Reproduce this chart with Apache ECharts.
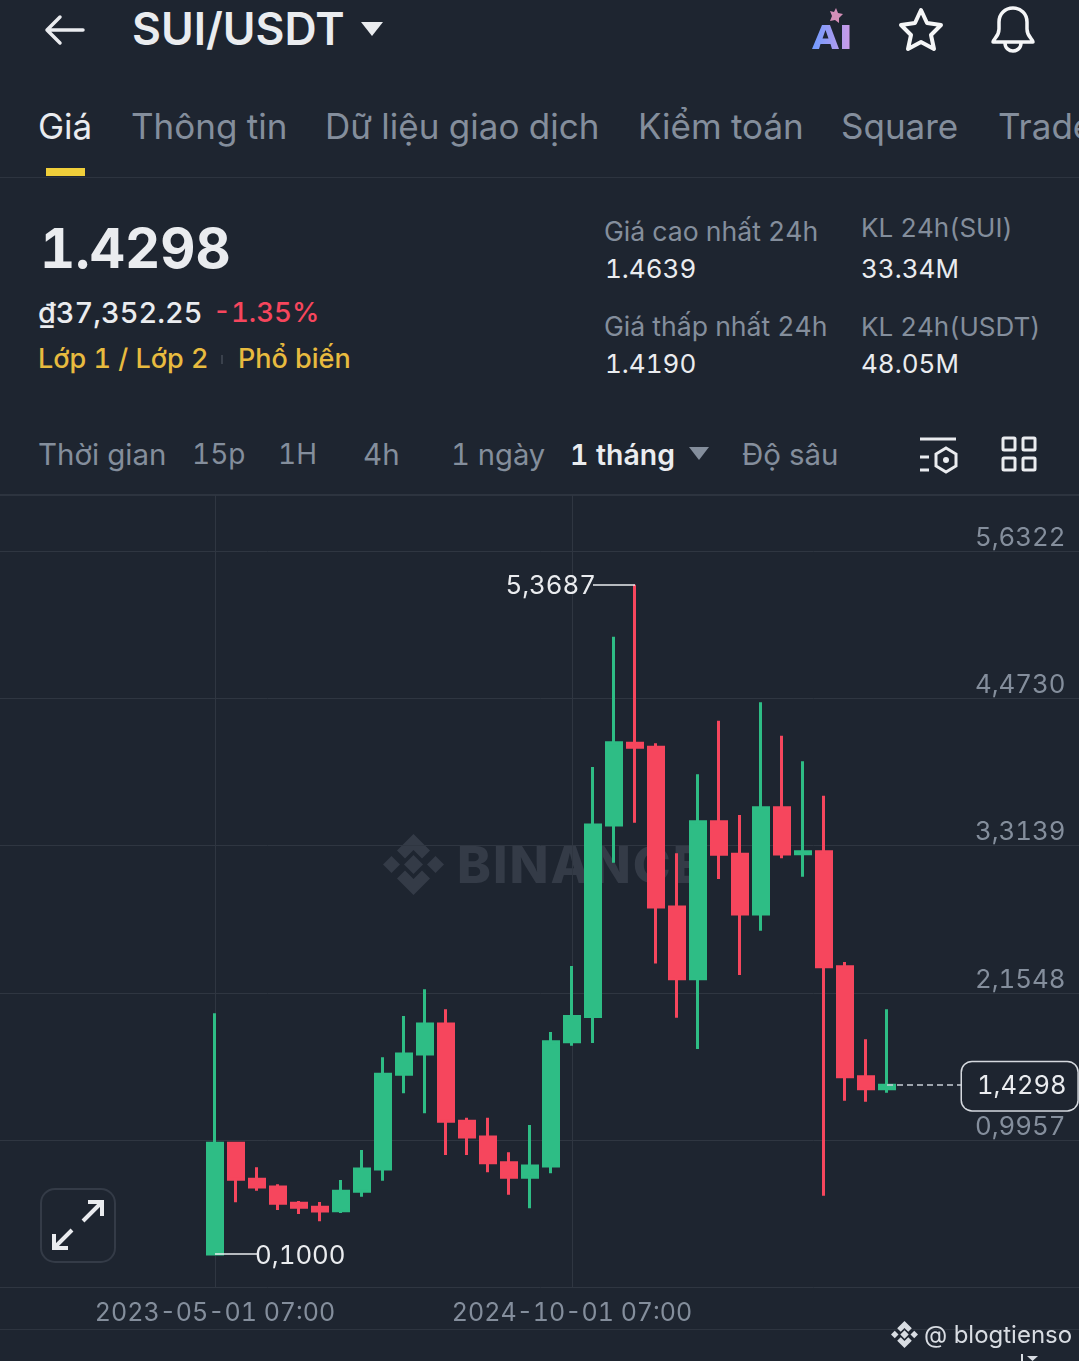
<!DOCTYPE html>
<html lang="vi">
<head>
    <meta charset="UTF-8"/>
    <title>SUI/USDT</title>
    <style>
        * {
            padding: 0;
            margin: 0;
        }

        body {
            width: 1079px;
            height: 1361px;
            overflow: hidden;
            position: relative;
            background-color: #1e2530;
            font-family: Inter, "Noto Sans", sans-serif;
            font-variant-numeric: tabular-nums;
        }

        .t {
            position: absolute;
            white-space: nowrap;
            transform: translateY(-50%);
            line-height: 1.2;
        }

        .grey { color: #848e9c; }
        .white { color: #eaecef; }
        .yellow { color: #e8bb3f; }

        .tab { font-size: 35px; }
        .time { font-size: 29.5px; }
        .stat { font-size: 26.6px; }
        .kl { font-size: 26px; }
        .val { font-size: 26px; }
        .tag { font-size: 27px; font-weight: 500; }

        .hr {
            position: absolute;
            left: 0;
            width: 1079px;
            height: 1px;
            background-color: #2d343f;
        }

        svg {
            position: absolute;
            overflow: visible;
        }

        /* wider than the page so the grid lines run off both edges */
        #chart {
            position: absolute;
            left: -30px;
            top: 0;
            width: 1139px;
            height: 1361px;
            z-index: 1;
        }

        #watermark {
            font-size: 51px;
            font-weight: 800;
            color: #343b47;
            letter-spacing: 2px;
            z-index: 0;
        }
    </style>
    <script src="https://cdn.jsdelivr.net/npm/echarts@6/dist/echarts.min.js"></script>
</head>
<body>

<!-- watermark sits under the transparent chart canvas -->
<svg style="left:383px;top:834px;z-index:0" width="61" height="61" viewBox="0 0 61 61" fill="#343b47">
    <polygon points="30.5,0 47,16.5 39,24.5 30.5,16 22,24.5 14,16.5"/>
    <polygon points="30.5,61 47,44.5 39,36.5 30.5,45 22,36.5 14,44.5"/>
    <polygon points="30.5,21 40,30.5 30.5,40 21,30.5"/>
    <polygon points="8.5,22 17,30.5 8.5,39 0,30.5"/>
    <polygon points="52.5,22 61,30.5 52.5,39 44,30.5"/>
</svg>
<div id="watermark" class="t" style="left:457px;top:865px">BINANCE</div>

<div id="chart"></div>

<!-- top bar -->
<svg style="left:45px;top:15px" width="40" height="30" viewBox="0 0 40 30" fill="none" stroke="#eaecef" stroke-width="3.5" stroke-linecap="round" stroke-linejoin="round">
    <path d="M38 15H2M15 2L2 15l13 13"/>
</svg>
<div class="t white" style="left:132px;top:30px;font-size:44.5px;font-weight:600">SUI/USDT</div>
<svg style="left:360px;top:21px" width="24" height="15"><polygon points="1,1 23,1 12,15" fill="#eaecef"/></svg>

<svg style="left:812px;top:8px" width="40" height="44" viewBox="0 0 40 44">
    <defs>
        <linearGradient id="ai" x1="0" x2="1" y1="0" y2="0">
            <stop offset="0" stop-color="#6f9bff"/>
            <stop offset="1" stop-color="#c99be8"/>
        </linearGradient>
    </defs>
    <polygon points="24,0 26,5 31,6 27,10 27,15 23,12 18,13 20,8 18,3 22,4" fill="#d58fb8"/>
    <path d="M0 41L10 17h8l9 24h-7l-1.500-5H8.500L7 41zM10.500 30.500h6L13.500 22zM30 17h7.500v24H30z" fill="url(#ai)" fill-rule="evenodd"/>
</svg>
<svg style="left:899px;top:8px" width="44" height="44" viewBox="0 0 44 44" fill="none" stroke="#f5f6f7" stroke-width="4" stroke-linejoin="round">
    <polygon points="22,2 28,15 42,17 32,27 35,41 22,34 9,41 12,27 2,17 16,15"/>
</svg>
<svg style="left:991px;top:6px" width="44" height="46" viewBox="0 0 44 46" fill="none" stroke="#f5f6f7" stroke-width="3.500" stroke-linejoin="round">
    <path d="M2 36c0-3 6-5 6-13V16C8 8 14 2 22 2s14 6 14 14v7c0 8 6 10 6 13z"/>
    <path d="M14 37c0 5 4 8 8 8s8-3 8-8"/>
</svg>

<!-- tabs -->
<div class="t tab white" style="left:38px;top:126px">Giá</div>
<div class="t tab grey" style="left:131px;top:126px">Thông tin</div>
<div class="t tab grey" style="left:325px;top:126px">Dữ liệu giao dịch</div>
<div class="t tab grey" style="left:638px;top:126px">Kiểm toán</div>
<div class="t tab grey" style="left:841px;top:126px">Square</div>
<div class="t tab grey" style="left:998px;top:126px">Trade</div>
<div style="position:absolute;left:46px;top:168px;width:39px;height:8px;background:#f0cf3a"></div>
<div class="hr" style="top:177px"></div>

<!-- price block -->
<div class="t white" style="left:40px;top:249px;font-size:54.5px;font-weight:700">1.4298</div>
<div class="t white" style="left:38px;top:313px;font-size:28.9px;font-weight:500">₫37,352.25</div>
<div class="t" style="left:213px;top:313px;font-size:27.6px;font-weight:500;color:#f6465d">-1.35%</div>
<div class="t tag yellow" style="left:38px;top:359px">Lớp 1 / Lớp 2</div>
<div style="position:absolute;left:221px;top:355px;width:2px;height:9px;background:#3a414c"></div>
<div class="t tag yellow" style="left:238px;top:359px">Phổ biến</div>

<div class="t stat grey" style="left:604px;top:232px">Giá cao nhất 24h</div>
<div class="t val white" style="left:605px;top:269px">1.4639</div>
<div class="t kl grey" style="left:861px;top:228px">KL 24h(SUI)</div>
<div class="t val white" style="left:861px;top:269px">33.34M</div>
<div class="t stat grey" style="left:604px;top:327px">Giá thấp nhất 24h</div>
<div class="t val white" style="left:605px;top:364px">1.4190</div>
<div class="t kl grey" style="left:861px;top:327px">KL 24h(USDT)</div>
<div class="t val white" style="left:861px;top:364px">48.05M</div>

<!-- interval row -->
<div class="t time grey" style="left:38px;top:455px">Thời gian</div>
<div class="t time grey" style="left:192px;top:455px;font-size:28px">15p</div>
<div class="t time grey" style="left:278px;top:455px;font-size:28px">1H</div>
<div class="t time grey" style="left:363px;top:455px">4h</div>
<div class="t time grey" style="left:451px;top:455px;font-size:29.2px">1 ngày</div>
<div class="t time white" style="left:570px;top:455px;font-size:28.4px;font-weight:600">1 tháng</div>
<svg style="left:689px;top:447px" width="20" height="13"><polygon points="0,0 20,0 10,13" fill="#848e9c"/></svg>
<div class="t time grey" style="left:742px;top:455px">Độ sâu</div>
<svg style="left:919px;top:437px" width="38" height="36" viewBox="0 0 38 36" fill="none" stroke="#eaecef" stroke-width="3">
    <path d="M1 2h36M1 20h9M1 33h9"/>
    <polygon points="27,11 37,17 37,29 27,35 17,29 17,17"/>
    <circle cx="27" cy="23" r="3" fill="#eaecef" stroke="none"/>
</svg>
<svg style="left:1001px;top:436px" width="36" height="36" viewBox="0 0 36 36" fill="none" stroke="#eaecef" stroke-width="3">
    <rect x="2" y="2" width="12" height="12" rx="1"/>
    <rect x="22" y="2" width="12" height="12" rx="1"/>
    <rect x="2" y="22" width="12" height="12" rx="1"/>
    <rect x="22" y="22" width="12" height="12" rx="1"/>
</svg>
<div class="hr" style="top:494px;height:2px"></div>

<!-- expand button -->
<svg style="left:40px;top:1188px;z-index:2" width="76" height="75" viewBox="0 0 76 75" fill="none">
    <rect x="1" y="1" width="74" height="73" rx="14" stroke="#343b47" stroke-width="2"/>
    <path d="M43 33L61 15M48 14h14v14M32 42L15 59M14 46v14h14" stroke="#eaecef" stroke-width="4"/>
</svg>

<!-- footer -->
<div class="hr" style="top:1329px"></div>
<svg style="left:891px;top:1321px;z-index:2" width="27" height="27" viewBox="0 0 61 61" fill="#d8dce2">
    <polygon points="30.5,0 47,16.5 39,24.5 30.5,16 22,24.5 14,16.5"/>
    <polygon points="30.5,61 47,44.5 39,36.5 30.5,45 22,36.500 14,44.5"/>
    <polygon points="30.5,21 40,30.5 30.5,40 21,30.5"/>
    <polygon points="8.5,22 17,30.5 8.5,39 0,30.5"/>
    <polygon points="52.5,22 61,30.5 52.5,39 44,30.5"/>
</svg>
<div class="t" style="left:924px;top:1335px;font-size:24px;color:#d8dce2;z-index:2">@ blogtienso</div>
<svg style="left:1021px;top:1354px;z-index:2" width="18" height="7" fill="#d8dce2">
    <rect x="0" y="0" width="2" height="7"/>
    <polygon points="6,2 17,2 11.5,7"/>
</svg>

<script>
    // monthly candles
    const months = [
        '2023-05-01 07:00', '2023-06-01 07:00', '2023-07-01 07:00', '2023-08-01 07:00', '2023-09-01 07:00',
        '2023-10-01 07:00', '2023-11-01 07:00', '2023-12-01 07:00', '2024-01-01 07:00', '2024-02-01 07:00',
        '2024-03-01 07:00', '2024-04-01 07:00', '2024-05-01 07:00', '2024-06-01 07:00', '2024-07-01 07:00',
        '2024-08-01 07:00', '2024-09-01 07:00', '2024-10-01 07:00', '2024-11-01 07:00', '2024-12-01 07:00',
        '2025-01-01 07:00', '2025-02-01 07:00', '2025-03-01 07:00', '2025-04-01 07:00', '2025-05-01 07:00',
        '2025-06-01 07:00', '2025-07-01 07:00', '2025-08-01 07:00', '2025-09-01 07:00', '2025-10-01 07:00',
        '2025-11-01 07:00', '2025-12-01 07:00', '2026-01-01 07:00'
    ]
    const opens = [0.1000, 0.9721, 0.6888, 0.6282, 0.4999, 0.4684, 0.4417, 0.5943, 0.7698, 1.5151, 1.6749, 1.9110, 1.1452, 1.0217, 0.8194, 0.7045, 0.7934, 1.7717, 1.9700, 3.4771, 4.1201, 4.0886, 2.8318, 2.2675, 3.5031, 3.2465, 2.7767, 3.6133, 3.2512, 3.2670, 2.3619, 1.4962, 1.4018]
    const closes = [0.9721, 0.6888, 0.6282, 0.4999, 0.4684, 0.4393, 0.5943, 0.7698, 1.5151, 1.6749, 1.9110, 1.1452, 1.0217, 0.8194, 0.7045, 0.7934, 1.7717, 1.9700, 3.4771, 4.1248, 4.0886, 2.8318, 2.2675, 3.5031, 3.2465, 2.7767, 3.6133, 3.2489, 3.2670, 2.3619, 1.4962, 1.4018, 1.4298]
    const lows = [0.1000, 0.5078, 0.5991, 0.4472, 0.4157, 0.3582, 0.4236, 0.5518, 0.6778, 1.3656, 1.2082, 0.8800, 0.8800, 0.7439, 0.5676, 0.4605, 0.7360, 1.7400, 1.7615, 3.1804, 3.4952, 2.3871, 1.9606, 1.7142, 3.0521, 2.2966, 2.6453, 3.2150, 3.0702, 0.5597, 1.3074, 1.2995, 1.3703]
    const highs = [1.9952, 0.9721, 0.7832, 0.6494, 0.5180, 0.5101, 0.6833, 0.9194, 1.6489, 1.9739, 2.1841, 2.0267, 1.1736, 1.1736, 0.9013, 1.1161, 1.8480, 2.3674, 3.9336, 4.9590, 5.3687, 4.1201, 3.2544, 3.8761, 4.2980, 3.5558, 4.4428, 4.1799, 3.9784, 3.7077, 2.3989, 1.7906, 2.0267]

    const priceTicks = [0.9957, 2.1548, 3.3139, 4.4730, 5.6322]
    const timeTicks = ['2023-05-01 07:00', '2024-10-01 07:00']
    const lastPrice = 1.4298

    const up = '#2ebd85'
    const down = '#f6465d'
    const gridColor = '#2f3641'

    // the app leaves empty room on both sides of the candles
    const padLeft = new Array(10).fill('-')
    const padRight = new Array(9).fill('-')
    const categories = [
        ...padLeft.map((v, i) => 'l' + i),
        ...months,
        ...padRight.map((v, i) => 'r' + i)
    ]

    const candles = months.map((m, i) => [opens[i], closes[i], lows[i], highs[i]])
    const seriesData = [...padLeft, ...candles, ...padRight]

    const comma = (v) => v.toFixed(4).replace('.', ',')

    const highIdx = highs.indexOf(Math.max(...highs))
    const lowIdx = lows.indexOf(Math.min(...lows))

    const chart = echarts.init(document.getElementById('chart'))

    chart.setOption({
        animation: false,
        backgroundColor: 'transparent',
        textStyle: {fontFamily: 'Inter'},
        grid: {left: 24.5, right: 22.5, top: 495, bottom: 74},
        xAxis: {
            type: 'category',
            data: categories,
            axisLine: {onZero: false, lineStyle: {color: gridColor, width: 1}},
            axisTick: {show: false, alignWithLabel: true},
            axisLabel: {
                color: '#848e9c',
                fontSize: 25,
                margin: 14,
                hideOverlap: false,
                interval: (i, v) => timeTicks.includes(v)
            },
            splitLine: {
                show: true,
                alignWithLabel: true,
                interval: (i, v) => timeTicks.includes(v),
                lineStyle: {color: gridColor, width: 1}
            }
        },
        yAxis: {
            type: 'value',
            position: 'right',
            scale: true,
            min: -0.1588,
            max: 6.0742,
            axisLine: {show: false},
            axisTick: {show: false, customValues: priceTicks},
            axisLabel: {
                inside: true,
                customValues: priceTicks,
                margin: 21,
                color: '#848e9c',
                fontSize: 25.8,
                verticalAlign: 'bottom',
                lineHeight: 26,
                formatter: comma
            },
            splitLine: {show: true, lineStyle: {color: gridColor, width: 1}}
        },
        series: [{
            type: 'candlestick',
            data: seriesData,
            barWidth: 16,
            itemStyle: {
                color: up,
                color0: down,
                borderColor: up,
                borderColor0: down,
                borderWidth: 3
            },
            markLine: {
                silent: true,
                symbol: 'none',
                animation: false,
                data: [
                    // leader to the top label
                    [
                        {coord: [months[highIdx], highs[highIdx]], lineStyle: {color: '#eaecef', width: 1.5, type: 'solid'}, label: {show: false}},
                        {coord: [months[highIdx - 2], highs[highIdx]]}
                    ],
                    // leader to the bottom label
                    [
                        {coord: [months[lowIdx], lows[lowIdx]], lineStyle: {color: '#eaecef', width: 1.5, type: 'solid'}, label: {show: false}},
                        {coord: [months[lowIdx + 2], lows[lowIdx]]}
                    ],
                    // current price, label sits at the right end
                    [
                        {coord: [months[months.length - 1], lastPrice], lineStyle: {color: '#c9ced6', width: 1.5, type: [6, 4]}},
                        {x: 992, yAxis: lastPrice}
                    ]
                ],
                label: {
                    show: true,
                    position: 'end',
                    distance: 0,
                    offset: [0, 1],
                    formatter: comma(lastPrice),
                    color: '#eaecef',
                    fontSize: 25.5,
                    backgroundColor: '#1e2530',
                    borderColor: '#d5d9df',
                    borderWidth: 1.5,
                    borderRadius: 10,
                    padding: [12, 19, 10, 15]
                }
            },
            markPoint: {
                silent: true,
                symbol: 'circle',
                symbolSize: 0,
                animation: false,
                label: {color: '#eaecef', fontSize: 25.8},
                data: [
                    {
                        coord: [months[highIdx - 2], highs[highIdx]],
                        label: {position: 'left', distance: -3, offset: [0, 2], formatter: comma(highs[highIdx])}
                    },
                    {
                        coord: [months[lowIdx + 2], lows[lowIdx]],
                        label: {position: 'right', distance: -2, offset: [0, 2], formatter: comma(lows[lowIdx])}
                    }
                ]
            }
        }]
    })
</script>
</body>
</html>
